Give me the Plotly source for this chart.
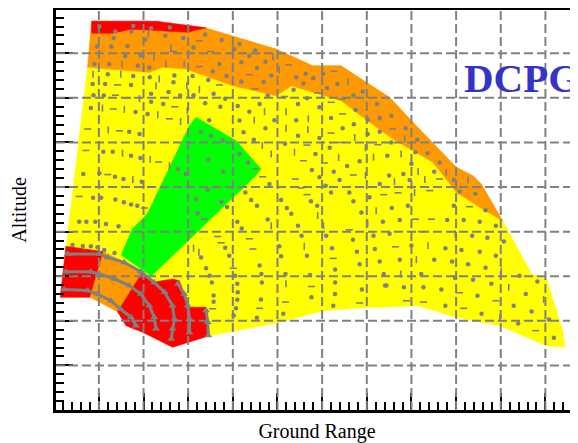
import plotly.graph_objects as go

# ---------------- region outlines (ground range, altitude) ----------------
yellow_x = [0.747, 2.130, 2.428, 2.953, 3.998, 4.971, 5.314, 5.791, 6.428, 6.913, 7.585, 8.482, 9.007, 9.529, 10.045,
            10.688, 11.025, 11.397, 11.435, 11.025, 9.978, 9.007, 8.146, 7.399, 7.063, 6.016, 5.045, 3.475,
            2.691, 1.009, 0.262]
yellow_y = [7.684, 7.572, 7.684, 7.646, 7.271, 7.047, 7.271, 7.123, 6.935, 6.563, 6.076, 5.554, 4.881, 4.545, 4.238,
            3.049, 2.937, 1.742, 1.406, 1.442, 1.890, 2.078, 2.339, 2.303, 2.303, 2.226, 1.966, 1.666,
            2.489, 3.498, 3.610]

orange_x = [0.836, 2.280, 3.401, 3.998, 4.971, 5.791, 6.428, 6.765, 7.511, 8.034, 9.007, 9.379, 9.567, 10.045,
            9.529, 9.007, 8.482, 7.585, 6.913, 6.428, 5.791, 5.314, 4.971, 3.998, 2.953, 2.428, 2.130, 0.747]
orange_y = [8.715, 8.693, 8.565, 8.392, 8.094, 7.720, 7.720, 7.496, 7.011, 6.451, 5.442, 5.253, 5.067, 4.238,
            4.545, 4.881, 5.554, 6.076, 6.563, 6.935, 7.123, 7.271, 7.047, 7.271, 7.646, 7.684, 7.572, 7.684]

red_top_x = [0.84, 2.28, 3.40, 2.99, 2.13, 1.72, 1.30, 0.84]
red_top_y = [8.72, 8.72, 8.57, 8.47, 8.52, 8.54, 8.45, 8.45]

green_x = [3.177, 4.074, 4.635, 4.484, 2.175, 1.502, 1.749, 2.085, 3.027]
green_y = [6.563, 6.038, 5.404, 5.224, 3.004, 3.475, 4.058, 4.395, 6.374]

red_a_x = [0.262, 1.105, 0.807, 0.135]
red_a_y = [3.670, 3.549, 2.527, 2.527]

orange_b_x = [1.105, 1.980, 1.419, 0.807]
orange_b_y = [3.549, 3.101, 2.204, 2.527]

red_c_x = [1.980, 2.242, 2.652, 2.803, 3.027, 3.401, 3.475, 2.652, 1.980, 1.608, 1.419]
red_c_y = [3.101, 2.870, 2.937, 2.899, 2.303, 2.303, 1.666, 1.406, 1.742, 1.890, 2.204]

# ---------------- sample points ----------------
dot_x = [1.01, 1.37, 1.77, 2.17, 2.59, 1.33, 1.73, 2.04, 2.49, 2.89, 3.38, 3.75, 4.03, 0.96, 1.28, 1.64, 3.12,
         1.59, 1.94, 0.90, 1.23, 1.87, 2.13, 3.70, 3.55, 3.86, 1.20, 1.77, 2.14, 2.69, 3.10, 3.45, 0.86, 1.14,
         1.72, 2.67, 0.88, 1.11, 2.17, 2.56, 2.82, 3.12, 3.57, 3.83, 0.82, 1.82, 2.17, 2.09, 2.44, 3.38, 3.72,
         1.68, 1.91, 3.47, 1.10, 1.31, 1.72, 1.93, 2.77, 0.65, 1.01, 1.36, 1.55, 1.96, 0.87, 1.05, 1.37, 1.56,
         1.72, 1.86, 3.29, 3.51, 3.77, 3.45, 3.79, 2.95, 3.18,
         4.15, 4.50, 4.37, 4.19, 4.73, 4.54, 4.86, 4.69, 4.19, 5.42, 5.63, 5.80, 6.02, 5.58, 6.34, 6.11, 6.70,
         6.91, 7.23, 6.75, 7.29, 7.55, 7.02, 7.87, 7.29, 8.13, 7.55, 8.09,
         5.36, 4.78, 5.66, 4.11, 4.37, 4.60, 5.46, 5.94, 4.15, 4.93, 5.42, 6.20, 4.24, 4.73, 5.46, 5.94, 6.46,
         6.71, 7.02, 4.47, 5.17, 6.17, 4.15, 4.34, 5.85, 6.84, 7.46, 8.00, 5.77, 6.26, 6.56, 7.50, 7.82, 4.82,
         5.94, 6.08, 6.39, 7.29, 7.96, 4.28, 4.41, 4.54, 5.08, 5.21, 5.75, 5.89, 6.20, 6.61, 6.70, 7.06, 5.31,
         6.88, 7.56, 7.92,
         3.44, 3.74, 3.21, 3.87, 4.10, 4.20, 3.83, 3.92, 4.05, 4.10, 4.11, 4.10, 4.07, 4.02, 3.29, 3.40, 3.48,
         3.53, 3.57, 3.57, 4.60, 4.64, 4.65, 4.63, 4.54, 5.04, 5.08, 5.18, 5.13, 5.54, 5.66, 5.73, 5.76, 6.09,
         6.22, 6.29, 6.29, 6.29, 6.25, 6.69, 6.78, 6.84, 6.89, 7.15, 7.18, 7.29, 7.38, 7.41, 4.78, 5.46, 7.36,
         8.51, 8.95, 9.08, 9.43, 8.95, 9.66, 7.74, 8.80, 9.17, 9.53, 9.89, 7.51, 9.36, 9.70, 10.07, 8.00, 8.76,
         9.12, 9.53, 9.89, 7.74, 8.51, 8.91, 9.27, 9.66, 8.22, 8.98, 9.38, 9.79, 10.42, 10.82, 7.44, 7.83, 8.27,
         8.67, 9.48, 10.56, 8.76, 9.57, 10.29, 10.69, 10.39, 11.08, 11.19,
         0.56, 0.72, 0.92, 1.16, 1.44, 0.41, 0.64, 0.82, 0.97, 1.12, 1.35, 8.36, 8.63]
dot_y = [8.60, 8.49, 8.61, 8.56, 8.58, 8.34, 8.49, 8.31, 8.39, 8.34, 8.42, 8.30, 8.09, 8.15, 8.15, 8.16, 8.13,
         7.94, 7.95, 7.76, 7.76, 7.72, 7.68, 7.76, 7.59, 7.49, 7.53, 7.49, 7.46, 7.50, 7.49, 7.40, 7.31, 7.31,
         7.29, 7.35, 7.06, 7.05, 7.09, 7.13, 7.05, 7.06, 7.09, 6.98, 6.77, 6.68, 6.91, 6.64, 6.86, 6.88, 6.80,
         6.24, 6.19, 6.50, 5.79, 5.79, 5.70, 5.65, 5.40, 5.29, 5.31, 5.23, 5.18, 5.12, 4.76, 4.76, 4.72, 4.66,
         4.61, 4.58, 6.24, 6.15, 6.05, 5.61, 5.35, 5.29, 4.73,
         8.21, 8.07, 7.94, 7.80, 7.81, 7.67, 7.50, 7.36, 7.36, 7.46, 7.54, 7.44, 7.54, 7.32, 7.31, 7.22, 7.05,
         7.14, 6.86, 6.73, 6.55, 6.60, 6.51, 6.32, 6.24, 6.06, 6.00, 5.78,
         7.18, 7.05, 6.99, 6.82, 6.69, 6.86, 6.86, 6.79, 6.49, 6.50, 6.50, 6.55, 6.23, 6.32, 6.15, 6.10, 6.32,
         6.41, 6.19, 6.06, 5.97, 5.88, 5.74, 5.55, 5.74, 5.58, 5.70, 5.52, 5.38, 5.34, 5.47, 5.26, 5.29, 5.07,
         5.22, 5.03, 5.16, 5.07, 5.16, 4.88, 4.71, 4.58, 4.71, 4.53, 4.68, 4.58, 4.88, 4.88, 4.68, 4.77, 4.40,
         4.43, 4.53, 4.58,
         4.94, 4.67, 4.41, 4.55, 4.22, 4.07, 3.64, 3.46, 3.01, 2.83, 2.64, 2.47, 2.28, 2.12, 3.42, 3.18, 3.01,
         2.86, 2.57, 2.43, 3.24, 3.05, 2.86, 2.48, 2.07, 3.67, 3.45, 3.05, 2.16, 3.91, 3.46, 3.03, 2.53, 3.91,
         3.63, 3.15, 2.86, 2.60, 2.34, 3.82, 3.55, 3.27, 2.70, 3.91, 3.61, 3.33, 3.05, 2.79, 4.27, 4.13, 4.22,
         5.34, 5.16, 4.90, 4.85, 4.58, 4.48, 4.26, 4.26, 4.26, 4.22, 4.13, 3.95, 3.91, 3.86, 3.78, 3.69, 3.63,
         3.59, 3.55, 3.46, 3.37, 3.37, 3.33, 3.27, 3.19, 3.05, 2.96, 2.92, 2.83, 3.01, 2.88, 2.79, 2.75, 2.75,
         2.70, 2.56, 2.60, 2.34, 2.16, 2.34, 2.21, 1.94, 2.03, 1.62,
         4.22, 4.22, 4.22, 4.17, 4.12, 3.70, 3.68, 3.67, 3.65, 3.59, 3.52, 5.76, 5.55]

hdash_x = [3.25, 3.50, 2.67, 3.25, 1.42, 3.70, 1.37, 1.64, 1.32, 2.70, 0.75, 1.46, 2.58, 0.71, 2.34, 1.20, 0.56,
           2.02, 5.25, 4.37, 6.26, 5.90, 6.44, 7.58, 4.50, 5.16, 6.20, 6.46, 6.20, 5.66, 6.43, 7.25, 4.50, 5.58,
           6.05, 6.70, 4.67, 5.40, 5.53, 5.66, 7.38, 7.70, 3.36, 4.37, 4.45, 3.74, 3.66, 4.01, 3.55, 4.60, 5.18,
           5.76, 6.25, 6.84, 6.61, 8.63, 8.41, 9.30, 8.09, 8.45, 8.22, 7.64, 9.08, 10.78, 7.89, 8.27, 9.17, 9.89]
hdash_y = [8.28, 8.04, 8.04, 7.70, 7.29, 7.29, 7.06, 7.00, 6.75, 6.80, 6.30, 6.26, 6.53, 5.82, 5.56, 5.28, 4.79,
           4.53, 7.74, 7.52, 7.60, 7.11, 6.97, 6.30, 7.20, 7.03, 6.90, 6.64, 6.21, 5.94, 6.00, 5.95, 5.41, 5.59,
           5.54, 5.27, 5.23, 5.18, 4.98, 4.83, 4.83, 4.87, 4.28, 3.84, 3.61, 3.75, 3.89, 3.18, 2.27, 2.28, 2.42,
           2.77, 3.40, 2.40, 4.04, 5.18, 4.92, 4.56, 4.28, 4.28, 4.00, 3.66, 2.63, 1.78, 2.45, 2.42, 2.28, 2.45]

vdash_x = [2.11, 2.61, 4.00, 2.23, 1.52, 2.50, 2.91, 0.87, 1.49, 2.35, 2.28, 2.97, 3.25, 1.91, 1.08, 1.57, 2.98,
           1.21, 2.32, 2.83, 1.53, 2.15, 2.58, 1.76, 4.90, 5.04, 6.58, 4.71, 5.19, 4.48, 5.69, 5.19, 5.68, 6.73,
           6.97, 4.66, 4.86, 5.38, 6.37, 7.15, 7.77, 8.15, 6.97, 7.62, 8.07, 5.90, 7.21, 7.85, 4.86, 7.02, 6.03,
           5.19, 5.60, 3.12, 3.24, 8.78, 8.30, 9.27, 8.98, 8.37, 8.11, 10.01, 7.76, 10.18, 10.96, 9.98]
vdash_y = [8.43, 8.13, 8.10, 7.91, 7.76, 7.76, 7.76, 7.53, 7.53, 7.42, 7.27, 7.27, 7.19, 6.98, 6.77, 6.74, 6.71,
           6.28, 6.62, 6.47, 5.76, 5.62, 5.48, 5.17, 7.91, 7.63, 7.36, 6.69, 6.69, 6.50, 6.53, 6.32, 6.29, 6.11,
           5.88, 5.93, 5.74, 5.78, 5.66, 5.67, 5.74, 5.35, 5.26, 5.12, 4.88, 4.36, 4.47, 6.08, 4.13, 4.19, 4.13,
           2.83, 3.67, 3.63, 3.54, 5.33, 5.17, 5.16, 3.95, 3.69, 3.37, 3.11, 3.05, 2.75, 2.48, 2.07]

# dense near-radar sample rows (triangles)
arc_a_x = [0.30, 1.01, 1.20, 1.57, 1.94, 2.24, 2.47, 2.65, 2.69, 2.65, 2.62]
arc_a_y = [3.50, 3.50, 3.42, 3.31, 3.10, 2.86, 2.64, 2.34, 2.04, 1.82, 1.59]
arc_b_x = [0.26, 0.82, 1.01, 1.35, 1.68, 1.94, 2.13, 2.24, 2.28]
arc_b_y = [3.10, 3.10, 3.05, 2.94, 2.79, 2.60, 2.34, 2.08, 1.82]
arc_c_x = [0.22, 0.75, 0.97, 1.27, 1.49, 1.72, 1.83]
arc_c_y = [2.70, 2.68, 2.60, 2.45, 2.26, 2.08, 1.89]
arc_d_x = [2.77, 2.91, 2.99, 3.03, 3.03]
arc_d_y = [2.83, 2.60, 2.34, 2.04, 1.74]
arc_e_x = [3.40, 3.44, 3.45]
arc_e_y = [2.23, 1.97, 1.67]

label_text = "DCPG"
label_pos = (9.13, 7.45)

X_RANGE = [0.04, 11.73]
Y_RANGE = [0.0, 8.97]

YELLOW = "#FFFF00"
ORANGE = "#FF9900"
RED = "#FF0000"
GREEN = "#00FF00"
GRAY = "#808080"
SERIF = "Liberation Serif, Times New Roman, serif"

fig = go.Figure()


def region(xs, ys, color):
    fig.add_trace(go.Scatter(x=xs + xs[:1], y=ys + ys[:1], mode="lines", fill="toself",
                             fillcolor=color, line=dict(color=color, width=0.6),
                             hoverinfo="skip", showlegend=False))


region(yellow_x, yellow_y, YELLOW)
region(orange_x, orange_y, ORANGE)
region(red_top_x, red_top_y, RED)
region(green_x, green_y, GREEN)
region(red_a_x, red_a_y, RED)
region(orange_b_x, orange_b_y, ORANGE)
region(red_c_x, red_c_y, RED)

fig.add_trace(go.Scatter(x=dot_x, y=dot_y, mode="markers",
                         marker=dict(symbol="circle", size=4.5, color=GRAY, line=dict(width=0)),
                         hoverinfo="skip", showlegend=False))
fig.add_trace(go.Scatter(x=hdash_x, y=hdash_y, mode="markers",
                         marker=dict(symbol="line-ew", size=5, color=GRAY, line=dict(width=1.6, color=GRAY)),
                         hoverinfo="skip", showlegend=False))
fig.add_trace(go.Scatter(x=vdash_x, y=vdash_y, mode="markers",
                         marker=dict(symbol="line-ns", size=5, color=GRAY, line=dict(width=1.6, color=GRAY)),
                         hoverinfo="skip", showlegend=False))
for ax_, ay_ in [(arc_a_x, arc_a_y), (arc_b_x, arc_b_y), (arc_c_x, arc_c_y), (arc_d_x, arc_d_y), (arc_e_x, arc_e_y)]:
    fig.add_trace(go.Scatter(x=ax_, y=ay_, mode="lines+markers",
                             line=dict(color=GRAY, width=3),
                             marker=dict(symbol="triangle-up", size=7, color=GRAY),
                             hoverinfo="skip", showlegend=False))

# dashed grid drawn on top of the filled regions
shapes = []
for gx in range(1, 12):
    shapes.append(dict(type="line", xref="x", yref="paper", x0=gx, x1=gx, y0=0, y1=1, layer="above",
                       line=dict(color=GRAY, width=2, dash="9px,4px")))
for gy in range(1, 9):
    shapes.append(dict(type="line", xref="paper", yref="y", x0=0, x1=1, y0=gy, y1=gy, layer="above",
                       line=dict(color=GRAY, width=2, dash="9px,4px")))

# the page body adds an 8px margin, so the figure is sized to fill the window from there
fig.update_layout(
    width=570, height=435,
    margin=dict(l=48, r=0, t=2, b=33),
    paper_bgcolor="white", plot_bgcolor="white",
    shapes=shapes,
    annotations=[dict(x=label_pos[0], y=label_pos[1], xref="x", yref="y", text=f"<b>{label_text}</b>",
                      showarrow=False, xanchor="left", yanchor="middle",
                      font=dict(family=SERIF, size=41, color="#3333CC"))],
    xaxis=dict(range=X_RANGE, showgrid=False, zeroline=False, showticklabels=False,
               showline=True, linecolor="black", linewidth=3, mirror=True,
               ticks="inside", ticklen=17, tickwidth=2, tickcolor="black", tick0=0, dtick=1,
               minor=dict(ticks="inside", ticklen=8, tickwidth=2, tickcolor="black", tick0=0, dtick=0.2,
                          showgrid=False),
               layer="above traces",
               title=dict(text="Ground Range", font=dict(family=SERIF, size=20, color="black"), standoff=12)),
    yaxis=dict(range=Y_RANGE, showgrid=False, zeroline=False, showticklabels=False,
               showline=True, linecolor="black", linewidth=3, mirror=False,
               ticks="inside", ticklen=17, tickwidth=2, tickcolor="black", tick0=0, dtick=1,
               minor=dict(ticks="inside", ticklen=8, tickwidth=2, tickcolor="black", tick0=0, dtick=0.2,
                          showgrid=False),
               layer="above traces",
               title=dict(text="Altitude", font=dict(family=SERIF, size=20, color="black"), standoff=22)),
)

fig.write_html("out.html")
